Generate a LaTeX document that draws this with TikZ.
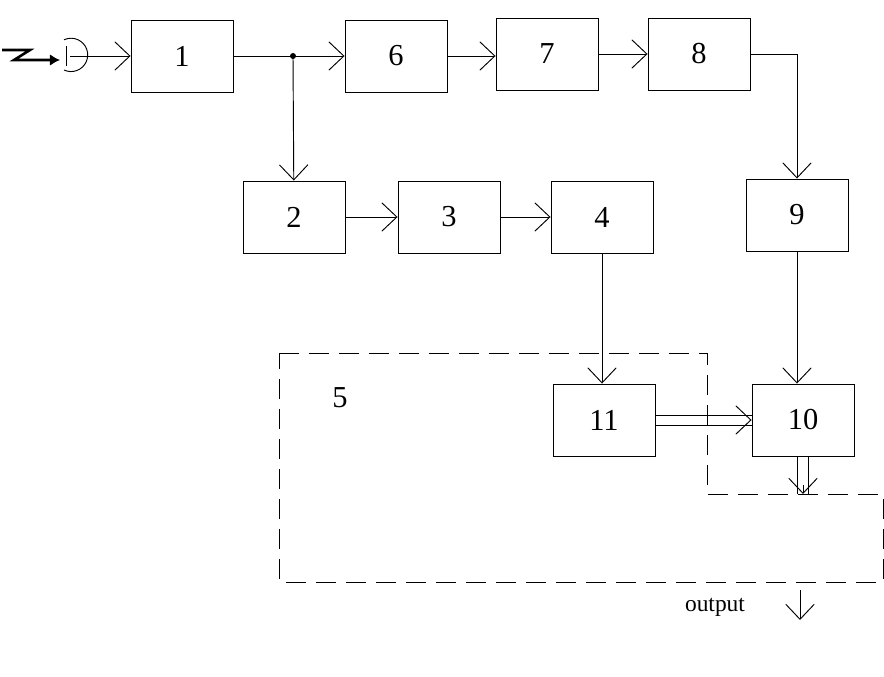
\documentclass[tikz,border=0pt]{standalone}
\usepackage{fontspec}
\setmainfont{Liberation Serif}
\usepackage{tikz}
\usetikzlibrary{arrows.meta, positioning}

\begin{document}
\begin{tikzpicture}[x=0.03cm, y=-0.03cm, thick, font=\fontsize{26}{28}\selectfont,
    >={Straight Barb[length=0.45cm, width=0.85cm]},
    blk/.style={draw, minimum width=3.06cm, minimum height=2.16cm, inner sep=0pt}]
        \useasboundingbox (0,0) rectangle (884,677);

        % Blocks
        \node[blk] (b1) at (182,56) {1};
        \node[blk] (b6) at (396,56) {6};
        \node[blk] (b7) at (547,54) {7};
        \node[blk] (b8) at (699,54) {8};
        \node[blk] (b2) at (294,217) {2};
        \node[blk] (b3) at (449,217) {3};
        \node[blk] (b4) at (602,217) {4};
        \node[blk] (b9) at (797,215) {9};
        \node[blk] (b11) at (604,420) {11};
        \node[blk] (b10) at (803,420) {10};

        % Dashed area 5
        \draw[dashed, dash pattern=on 0.6cm off 0.3cm] (279,353) -- (707,353) -- (707,494) -- (883,494) -- (883,582) -- (279,582) -- cycle;
        \node (lbl5) at (340,398) {5};
        \node[font=\fontsize{20}{22}\selectfont] (out) at (715,607) {output};
        \coordinate (outtop) at (800,590);
        \coordinate (outbot) at (800,620);
        \draw[->] (outtop) -- (outbot);

        % Antenna
        \coordinate (ant) at (70,56);
        \draw (ant) ++(-6,14) arc[start angle=-115, end angle=115, radius=0.5cm];
        \draw (66,46) -- (66,66);
        \draw[->] (ant) -- (b1);
        \draw[line width=2.2pt, -{Latex[length=0.3cm, width=0.35cm]}] (2,50) -- (30,50) -- (14,60) -- (60,60);

        % Connections
        \coordinate (split) at (293,56);
        \fill (split) circle (3);
        \draw[->] (b1) -- (b6);
        \draw[->] (split) -- (b2);
        \draw[->] (b6.east) -- (b7.west |- b6.east);
        \draw[->] (b7) -- (b8);
        \draw[->] (b8.east) -| (b9);
        \draw[->] (b2) -- (b3);
        \draw[->] (b3) -- (b4);
        \draw[->] (b4.south) -- (b4.south |- b11.north);
        \draw[->] (b9) -- (b9 |- b10.north);

        % Double connections
        \draw (b11.east |- 0,415) -- (b10.west |- 0,415);
        \draw (b11.east |- 0,425) -- (b10.west |- 0,425);
        \draw[->] (b10.west |- 0,420) ++(-2,0) -- (b10.west);
        \coordinate (tenout) at (803,494);
        \draw (797,456) -- (797,494);
        \draw (808,456) -- (808,494);
        \draw[->] (803,485) -- (tenout);
\end{tikzpicture}
\end{document}
